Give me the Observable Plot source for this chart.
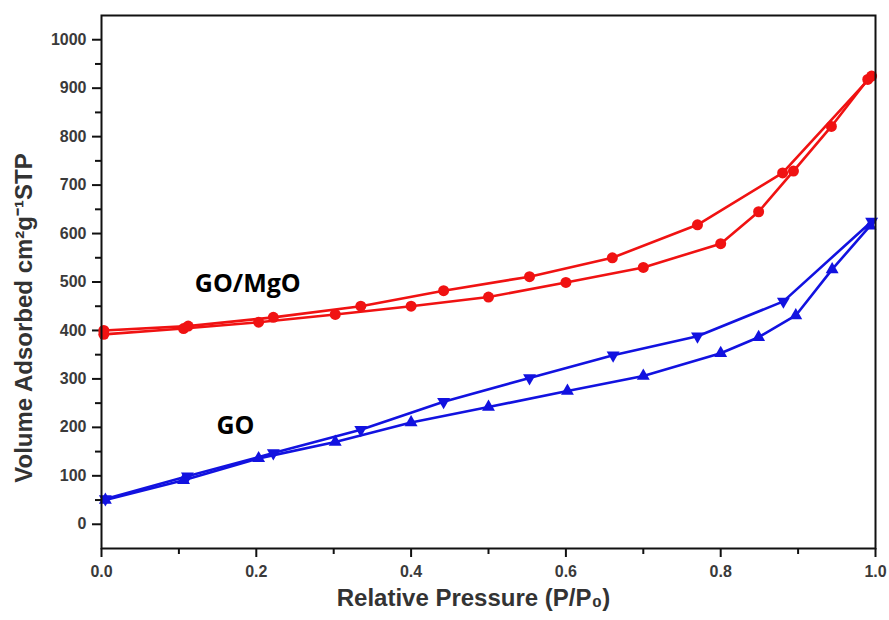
<!DOCTYPE html>
<html>
<head>
<meta charset="utf-8">
<script src="https://cdn.jsdelivr.net/npm/d3@7"></script>
<script src="https://cdn.jsdelivr.net/npm/@observablehq/plot@0.6"></script>
<style>
  html, body { margin: 0; padding: 0; background: #fff; }
  #chart svg { display: block; }
</style>
</head>
<body>
<div id="chart"></div>
<script>
// GO/MgO (red circles)
const mgoAdsP = [0.003, 0.106, 0.203, 0.302, 0.40, 0.50, 0.60, 0.70, 0.80, 0.849, 0.894, 0.943, 0.99];
const mgoAdsV = [392, 404, 417, 433, 450, 469, 499, 530, 579, 645, 729, 821, 918];
const mgoDesP = [0.995, 0.88, 0.77, 0.66, 0.553, 0.442, 0.335, 0.222, 0.112, 0.003];
const mgoDesV = [925, 725, 618, 550, 511, 482, 450, 427, 409, 400];
// GO (blue triangles)
const goAdsP = [0.005, 0.106, 0.203, 0.302, 0.40, 0.50, 0.602, 0.70, 0.80, 0.849, 0.897, 0.944, 0.993];
const goAdsV = [50, 91, 136, 170, 210, 242, 275, 306, 353, 386, 431, 526, 616];
const goDesP = [0.995, 0.881, 0.77, 0.661, 0.553, 0.442, 0.335, 0.222, 0.111, 0.005];
const goDesV = [625, 460, 388, 349, 302, 253, 195, 147, 99, 52];

const xMajor = [0, 0.2, 0.4, 0.6, 0.8, 1.0];
const xMinor = [0.1, 0.3, 0.5, 0.7, 0.9];
const yMajor = [0, 100, 200, 300, 400, 500, 600, 700, 800, 900, 1000];
const yMinor = [50, 150, 250, 350, 450, 550, 650, 750, 850, 950];

const seriesLabels = [
  {text: "GO/MgO", x: 0.189, y: 496},
  {text: "GO", x: 0.173, y: 203}
];
const xTitle = "Relative Pressure (P/P₀)";
const yTitle = "Volume Adsorbed cm²g⁻¹STP";

const RED = "#f01212";
const BLUE = "#1212e0";

const toRows = (ps, vs) => ps.map((p, i) => ({p, v: vs[i]}));
const mgoAds = toRows(mgoAdsP, mgoAdsV);
const mgoDes = toRows(mgoDesP, mgoDesV);
const goAds = toRows(goAdsP, goAdsV);
const goDes = toRows(goDesP, goDesV);

const tickFont = {fontFamily: "Liberation Sans, Arial, sans-serif", fontWeight: "bold", fontSize: 16, fill: "#3a3a3a"};
const titleFont = {fontFamily: "Liberation Sans, Arial, sans-serif", fontWeight: "bold", fontSize: 24, fill: "#333"};

const chart = Plot.plot({
  width: 889,
  height: 620,
  marginLeft: 101,
  marginRight: 14,
  marginTop: 15,
  marginBottom: 72,
  style: {background: "#fff", overflow: "visible"},
  x: {domain: [0, 1], label: null},
  y: {domain: [-50, 1050], label: null},
  marks: [
    Plot.axisX(xMajor, {tickSize: 9, tickPadding: 8, tickFormat: d3.format(".1f"), label: null, stroke: "#111", strokeWidth: 2, ...tickFont}),
    Plot.axisX(xMinor, {tickSize: 6, tickFormat: () => "", label: null, stroke: "#111", strokeWidth: 2}),
    Plot.axisY(yMajor, {tickSize: 9, tickPadding: 6, tickFormat: d => String(d), label: null, stroke: "#111", strokeWidth: 2, ...tickFont}),
    Plot.axisY(yMinor, {tickSize: 6, tickFormat: () => "", label: null, stroke: "#111", strokeWidth: 2}),
    Plot.line(mgoAds, {x: "p", y: "v", stroke: RED, strokeWidth: 2.6}),
    Plot.line(mgoDes, {x: "p", y: "v", stroke: RED, strokeWidth: 2.6}),
    Plot.line(goAds, {x: "p", y: "v", stroke: BLUE, strokeWidth: 2.6}),
    Plot.line(goDes, {x: "p", y: "v", stroke: BLUE, strokeWidth: 2.6}),
    Plot.dot(mgoAds, {x: "p", y: "v", r: 5.5, fill: RED, stroke: "none"}),
    Plot.dot(mgoDes, {x: "p", y: "v", r: 5.5, fill: RED, stroke: "none"}),
    Plot.dot(goAds, {x: "p", y: "v", r: 4.8, symbol: "triangle", fill: BLUE, stroke: "none"}),
    Plot.dot(goDes, {x: "p", y: "v", r: 4.8, symbol: "triangle", rotate: 180, fill: BLUE, stroke: "none"}),
    Plot.text(seriesLabels, {x: "x", y: "y", text: "text", fontFamily: "Open Sans, sans-serif", fontWeight: "bold", fontSize: 25, fill: "#000"}),
    Plot.text([xTitle], {text: d => d, frameAnchor: "bottom", textAnchor: "middle", dx: -15, dy: 57, ...titleFont}),
    Plot.text([yTitle], {text: d => d, frameAnchor: "left", textAnchor: "middle", dx: -77, dy: 36, rotate: -90, ...titleFont}),
    Plot.frame({stroke: "#111", strokeWidth: 2})
  ]
});
document.getElementById("chart").appendChild(chart);
</script>
</body>
</html>
